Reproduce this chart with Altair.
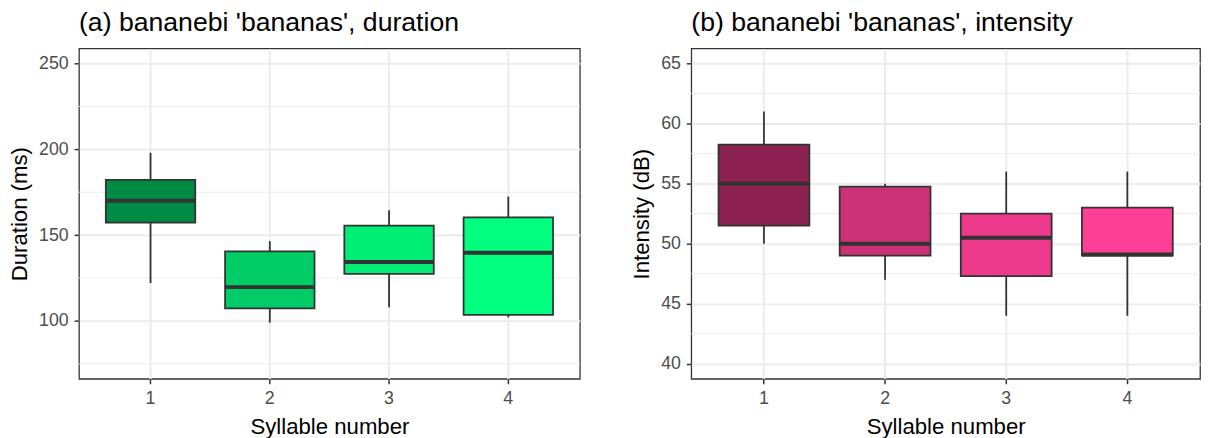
import altair as alt
import pandas as pd

syllables = ["1", "2", "3", "4"]

# (a) duration (ms): whisker low, Q1, median, Q3, whisker high
dur_min = [122, 99, 108, 102]
dur_q1 = [157.3, 107.3, 127.4, 103.5]
dur_med = [170, 119.7, 134.3, 139.7]
dur_q3 = [182.2, 140.5, 155.5, 160.3]
dur_max = [198, 146.5, 164.5, 172.5]
dur_colors = ["#008B45", "#00CD66", "#00EE76", "#00FF7F"]
dur_major = [100, 150, 200, 250]
dur_minor = [75, 125, 175, 225]
dur_domain = [66.25, 258.75]

# (b) intensity (dB)
int_min = [50, 47, 44, 44]
int_q1 = [51.5, 49, 47.3, 49]
int_med = [55, 50, 50.5, 49.1]
int_q3 = [58.25, 54.75, 52.5, 53]
int_max = [61, 55, 56, 56]
int_colors = ["#8B2252", "#CD3278", "#EE3A8C", "#FF3E96"]
int_major = [40, 45, 50, 55, 60, 65]
int_minor = [42.5, 47.5, 52.5, 57.5, 62.5]
int_domain = [38.75, 66.25]

FONT = "Liberation Sans"
DARK = "#333333"


def panel(title, ytitle, domain, major, minor, mins, q1s, meds, q3s, maxs, colors, width):
    df = pd.DataFrame(dict(syl=syllables, lo=mins, q1=q1s, med=meds, q3=q3s, hi=maxs))
    yscale = alt.Scale(domain=domain, nice=False, zero=False)
    yaxis = alt.Axis(title=ytitle, values=major, grid=True, titlePadding=7)
    xenc = alt.X(
        "syl:N",
        sort=syllables,
        scale=alt.Scale(type="band", paddingInner=0, paddingOuter=0.1),
        axis=alt.Axis(title="Syllable number", labelAngle=0, grid=True,
                      bandPosition=0.5, titlePadding=8),
    )
    base = alt.Chart(df)
    minor_layer = alt.Chart(pd.DataFrame({"v": minor})).mark_rule(
        color="#EBEBEB", strokeWidth=1
    ).encode(y=alt.Y("v:Q", scale=yscale, axis=yaxis))
    whisk = base.mark_rule(color=DARK, strokeWidth=1.8).encode(
        x=xenc,
        y=alt.Y("lo:Q", scale=yscale, axis=yaxis),
        y2="hi:Q",
    )
    box = base.mark_bar(
        width=alt.RelativeBandSize(0.75), stroke=DARK, strokeWidth=1.8
    ).encode(
        x=xenc,
        y=alt.Y("q1:Q", scale=yscale, axis=yaxis),
        y2="q3:Q",
        color=alt.Color("syl:N", scale=alt.Scale(domain=syllables, range=colors), legend=None),
    )
    med = base.mark_tick(color=DARK, thickness=4, size=width * 0.75 / 4.2, opacity=1).encode(
        x=xenc,
        y=alt.Y("med:Q", scale=yscale, axis=yaxis),
    )
    return alt.layer(minor_layer, whisk, box, med).properties(
        width=width,
        height=335,
        title=alt.TitleParams(
            text=title, anchor="start", frame="group", fontSize=27,
            fontWeight="normal", color="black", font=FONT, offset=12,
        ),
    )


left = panel("(a) bananebi 'bananas', duration", "Duration (ms)", dur_domain, dur_major,
             dur_minor, dur_min, dur_q1, dur_med, dur_q3, dur_max, dur_colors, 508)
right = panel("(b) bananebi 'bananas', intensity", "Intensity (dB)", int_domain, int_major,
              int_minor, int_min, int_q1, int_med, int_q3, int_max, int_colors, 516)

chart = alt.hconcat(left, right, spacing=49).resolve_scale(
    color="independent"
).configure(
    padding={"top": -3, "left": 0, "right": 0, "bottom": 0},
    font=FONT,
).configure_view(
    stroke=DARK, strokeWidth=1.3
).configure_axis(
    labelFont=FONT, labelFontSize=18, labelColor="#4D4D4D",
    titleFont=FONT, titleFontSize=22.5, titleColor="black", titleFontWeight="normal",
    tickColor=DARK, tickSize=5, tickWidth=1.5, labelPadding=6,
    domain=False, gridColor="#EBEBEB", gridWidth=2,
)

chart.save("out.html", embed_options={"renderer": "svg", "actions": False})
